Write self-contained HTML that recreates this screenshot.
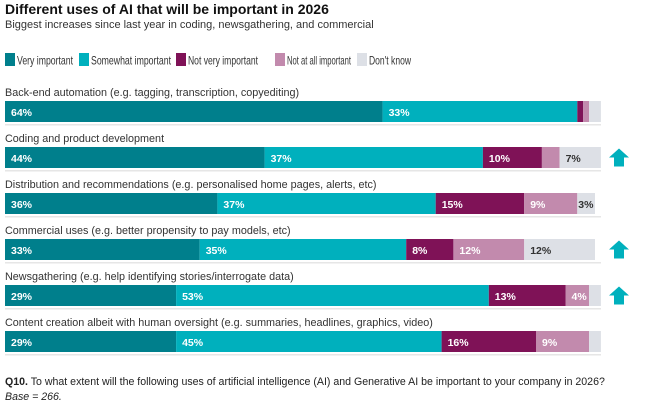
<!DOCTYPE html>
<html><head><meta charset="utf-8"><style>
body{margin:0;background:#fff;font-family:"Liberation Sans",sans-serif;color:#222;}
#wrap{position:relative;width:645px;height:417px;overflow:hidden}
.t{position:absolute;white-space:nowrap}
</style></head><body><div id="wrap">
<div class="t" style="left:5px;top:1px;font-size:14px;font-weight:bold;color:#111">Different uses of AI that will be important in 2026</div>
<div class="t" style="left:5px;top:19px;font-size:11px;color:#333">Biggest increases since last year in coding, newsgathering, and commercial</div>
<svg id="svg" width="645" height="417" style="position:absolute;left:0;top:0"></svg>
<div class="t" style="left:5px;top:376px;font-size:10.6px;color:#222"><b>Q10.</b> To what extent will the following uses of artificial intelligence (AI) and Generative AI be important to your company in 2026?</div>
<div class="t" style="left:5px;top:391px;font-size:10.6px;font-style:italic;color:#222">Base = 266.</div>
</div>
<script>
const categories=["Back-end automation (e.g. tagging, transcription, copyediting)","Coding and product development","Distribution and recommendations (e.g. personalised home pages, alerts, etc)","Commercial uses (e.g. better propensity to pay models, etc)","Newsgathering (e.g. help identifying stories/interrogate data)","Content creation albeit with human oversight (e.g. summaries, headlines, graphics, video)"];
const seriesNames=["Very important","Somewhat important","Not very important","Not at all important","Don't know"];
const veryImportant=[64,44,36,33,29,29];
const somewhatImportant=[33,37,37,35,53,45];
const notVeryImportant=[1,10,15,8,13,16];
const notAtAll=[1,3,9,12,4,9];
const dontKnow=[2,7,3,12,2,2];
const increased=[false,true,false,true,true,false];
const colors=["#007f8c","#00b0bd","#7f1257","#c28aad","#dde0e6"];
const textColors=["#fff","#fff","#fff","#fff","#333"];
const series=[veryImportant,somewhatImportant,notVeryImportant,notAtAll,dontKnow];
const NS="http://www.w3.org/2000/svg";
const svg=document.getElementById('svg');
const x0=5,pxPer=5.9,rowTop=101,rowStep=46,barH=21;
const xs=v=>v*pxPer;
const ys=i=>rowTop+i*rowStep;
const legendX=[5,79,176,275,357];
const legendW=[56,80,70,64,42];
seriesNames.forEach((n,k)=>{
  const lx=legendX[k];
  const sw=document.createElementNS(NS,'rect');
  
  
  sw.setAttribute('x',lx);sw.setAttribute('y',53);sw.setAttribute('width',10);sw.setAttribute('height',13);sw.setAttribute('fill',colors[k]);
  svg.appendChild(sw);
  const t=document.createElementNS(NS,'text');
  
  
  t.setAttribute('x',lx+12);t.setAttribute('y',64.5);
  t.setAttribute('font-size','12');t.setAttribute('fill','#333');
  t.setAttribute('textLength',legendW[k]);t.setAttribute('lengthAdjust','spacingAndGlyphs');
  t.textContent=n;svg.appendChild(t);
});
categories.forEach((c,i)=>{
  const y=ys(i);
  const lab=document.createElementNS(NS,'text');
  
  
  lab.setAttribute('x',x0);lab.setAttribute('y',y-5);
  lab.setAttribute('font-size','10.8');lab.setAttribute('fill','#333');
  lab.textContent=c;svg.appendChild(lab);
  const sep=document.createElementNS(NS,'rect');
  
  
  sep.setAttribute('x',x0);sep.setAttribute('y',y+barH+2);sep.setAttribute('width',596);sep.setAttribute('height',1.5);sep.setAttribute('fill','#e6e6e6');
  svg.appendChild(sep);
  let acc=0;
  series.forEach((s,k)=>{
    const v=s[i];
    const r=document.createElementNS(NS,'rect');
    
    
    r.setAttribute('x',x0+xs(acc));r.setAttribute('y',y);
    r.setAttribute('width',xs(v));r.setAttribute('height',barH);r.setAttribute('fill',colors[k]);
    svg.appendChild(r);
    if(v>=4||(v>=3&&k==4)){
      const t=document.createElementNS(NS,'text');
      
      
      t.setAttribute('x',x0+xs(acc)+(v<=3?1:6));t.setAttribute('y',y+15);
      t.setAttribute('font-size','10.5');t.setAttribute('font-weight','bold');t.setAttribute('fill',textColors[k]);
      t.textContent=v+'%';svg.appendChild(t);
    }
    acc+=v;
  });
  if(increased[i]){
    const a=document.createElementNS(NS,'polygon');
    
    
    const cx=619,cy=y+barH/2;
    a.setAttribute('points',`${cx},${cy-9} ${cx+10},${cy} ${cx+5},${cy} ${cx+5},${cy+9} ${cx-5},${cy+9} ${cx-5},${cy} ${cx-10},${cy}`);
    a.setAttribute('fill','#00b0bd');svg.appendChild(a);
  }
});
</script></body></html>
